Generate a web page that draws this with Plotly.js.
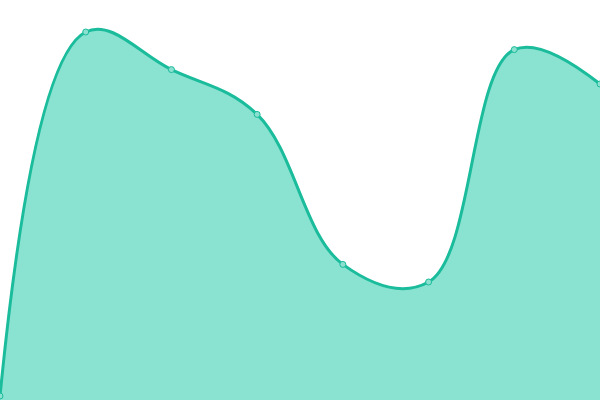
<!DOCTYPE html>
<html>
<head>
<meta charset="utf-8">
<script src="https://cdn.plot.ly/plotly-3.0.1.min.js"></script>
<style>
  html, body { margin: 0; padding: 0; background: #fff; }
  #graphDiv { width: 600px; height: 400px; }
</style>
</head>
<body>
<div id="graphDiv"></div>
<script>
    // values (y axis 0..100)
    const xs = [0, 1, 2, 3, 4, 5, 6, 7];
    const ys = [1, 92, 82.6, 71.4, 33.9, 29.5, 87.6, 79];

    const lineColor = "#1abc9c";

    function map_data() {
        let area = {
            x: xs,
            y: ys,
            type: "scatter",
            mode: "lines+markers",
            fill: "tozeroy",
            fillcolor: "rgba(22,198,164,0.5)",
            line: { color: lineColor, width: 3, shape: "spline", smoothing: 1.1 },
            marker: {
                size: 6,
                color: "rgba(140,224,207,1)",
                line: { color: lineColor, width: 1 }
            },
            hoverinfo: "none",
            cliponaxis: false
        };
        return [area];
    }

    function onPageLoad() {
        Plotly.newPlot("graphDiv", map_data(), {
            width: 600,
            height: 400,
            margin: { l: 0, r: 0, t: 0, b: 0, pad: 0 },
            showlegend: false,
            paper_bgcolor: "#fff",
            plot_bgcolor: "#fff",
            xaxis: { range: [0, 7], visible: false, fixedrange: true },
            yaxis: { range: [0, 100], visible: false, fixedrange: true }
        }, { displayModeBar: false, staticPlot: true });
    }
    onPageLoad();
</script>
</body>
</html>
